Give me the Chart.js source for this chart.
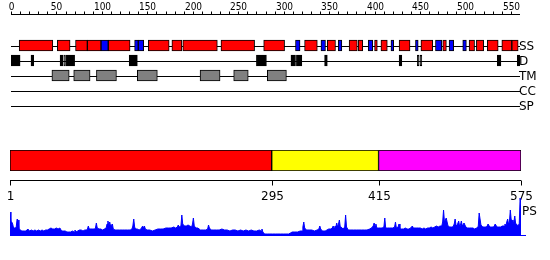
<!DOCTYPE html>
<html><head><meta charset="utf-8">
<script src="https://cdn.jsdelivr.net/npm/chart.js@4"></script>
<style>
html,body{margin:0;padding:0;background:#fff;width:550px;height:260px;overflow:hidden;}
canvas{position:absolute;left:0;}
</style></head><body>
<canvas id="top" width="550" height="115" style="top:0px"></canvas>
<canvas id="dom" width="550" height="65" style="top:140px"></canvas>
<canvas id="ps" width="550" height="60" style="top:190px"></canvas>
<script>
// ---- data ----
const rowNames = ['SS','D','TM','CC','SP'];
const rulerMax = 560;
const rulerStep = 10;
const rulerLabelStep = 50;
const helix = [[9,46],[51,65],[71,84],[84,99],[107,131],[151,174],[177,188],[189,227],[231,268],[278,301],
  [323,337],[348,357],[372,381],[382,387],[400,403],[407,414],[427,439],[451,464],[475,479],[504,510],
  [512,520],[524,536],[540,551],[551,558]];
const strand = [[99,107],[136,140],[140,146],[313,318],[341,346],[360,364],[393,398],[418,421],[445,448],
  [467,474],[482,487],[497,501]];
const disorder = [[0,10],[22,25],[54,57],[58,59],[60,70],[130,139],[270,281],[308,313],[314,320],[345,348],
  [427,430],[447,449],[450,452],[535,539],[557,560]];
const transmem = [[45,64],[69,87],[94,116],[139,161],[208,230],[245,261],[282,303]];
const domainStart = [1,295,415];
const domainEnd = [295,415,575];
const domainColors = ['#ff0000','#ffff00','#ff00ff'];
const domainTicks = [1,295,415,575];
const psLabel = 'PS';
const psPos = [1,2,3,4,5,7,8,9,10,11,13,14,17,19,21,23,25,27,29,31,33,35,37,39,41,43,45,47,49,51,53,55,57,59,61,63,65,67,69,71,73,74,75,77,79,81,83,85,87,88,89,90,92,94,96,97,98,99,101,103,105,107,109,110,111,112,113,114,116,117,119,121,124,127,130,133,136,138,139,140,141,142,144,146,148,150,151,152,153,155,158,161,164,167,170,173,176,179,182,185,187,189,190,191,193,194,195,197,199,201,203,205,206,207,208,210,212,215,218,221,223,224,225,227,230,233,236,239,242,245,248,251,254,257,260,263,266,269,272,275,278,281,283,284,285,287,290,293,296,299,302,305,308,311,314,316,318,321,324,327,329,330,331,332,334,337,340,343,346,348,349,350,352,355,357,359,361,363,364,365,366,367,368,369,370,371,372,373,375,377,378,379,381,384,387,390,393,396,399,402,405,407,409,410,411,412,413,415,417,419,421,422,423,425,427,429,431,433,434,435,437,438,439,441,443,445,447,449,451,453,454,456,458,460,462,464,466,468,470,472,474,476,478,480,482,484,485,486,487,488,489,491,493,495,497,498,499,500,501,502,503,505,506,507,508,509,511,513,515,517,519,521,523,525,526,527,528,530,532,534,536,537,538,540,542,544,545,546,548,550,552,554,556,557,558,559,560,561,562,563,564,565,566,567,568,569,570,571,572,573,574,575];
const psVal = [24,14,14,12,8,8,9,17,16,7,6,5,5,5,7,5,6,5,6,5,6,5,6,5,6,6,7,8,7,7,8,7,8,5,5,5,4,4,4,5,4,6,4,5,6,6,5,6,6,7,10,7,7,7,7,8,13,8,7,7,6,7,8,12,15,10,14,10,12,7,6,6,6,6,6,6,6,7,10,17,9,7,7,6,7,10,8,10,7,6,6,5,6,7,7,7,8,8,8,9,8,9,11,9,10,21,12,10,10,11,10,9,12,18,10,8,8,6,6,6,7,11,8,6,6,6,6,7,6,6,5,6,6,5,6,5,6,5,6,5,5,6,5,7,4,2,2,2,2,2,2,2,2,2,2,3,4,4,4,5,5,9,14,8,6,6,6,5,6,7,10,7,5,5,6,7,7,8,10,8,10,9,13,9,12,16,9,9,7,9,21,9,6,6,6,6,6,6,6,6,7,8,10,13,10,12,8,8,8,8,9,18,8,8,8,8,8,9,14,8,9,12,7,7,7,8,7,7,8,10,8,8,8,8,8,7,8,7,8,8,9,8,9,10,9,10,10,10,14,26,14,18,10,9,9,9,10,12,17,11,10,15,10,11,15,10,13,9,8,8,8,8,7,8,8,10,23,11,9,9,9,10,12,9,9,9,10,12,9,9,9,10,10,12,10,14,17,12,14,26,16,16,12,14,20,12,12,10,11,12,38,30,12];

const FONT = '"DejaVu Sans", sans-serif';

// ---- top panel: ruler + feature rows ----
function seg(list, row){ return list.map(([s,e]) => ({x:[s,e], y:row})); }
const barCommon = {borderColor:'#000', borderWidth:1, borderSkipped:false, barThickness:11, grouped:false};
const topPlugin = {
  id:'topDeco',
  beforeDatasetsDraw(chart){
    const {ctx, scales:{x,y}} = chart;
    ctx.save();
    ctx.strokeStyle = '#000'; ctx.lineWidth = 1;
    rowNames.forEach((n,i)=>{
      const py = Math.round(y.getPixelForValue(i)) + 0.5;
      ctx.beginPath(); ctx.moveTo(x.getPixelForValue(0), py); ctx.lineTo(x.getPixelForValue(rulerMax), py); ctx.stroke();
    });
    ctx.restore();
  },
  afterDraw(chart){
    const {ctx, scales:{x,y}} = chart;
    ctx.save();
    ctx.fillStyle = '#000'; ctx.strokeStyle = '#000'; ctx.lineWidth = 1;
    ctx.font = '12px ' + FONT; ctx.textAlign = 'left'; ctx.textBaseline = 'alphabetic';
    rowNames.forEach((n,i)=>{
      ctx.fillText(n, x.getPixelForValue(rulerMax) - 1, y.getPixelForValue(i) + 4.5);
    });
    // ruler
    const ry = 14.5;
    ctx.beginPath(); ctx.moveTo(x.getPixelForValue(0), ry); ctx.lineTo(x.getPixelForValue(rulerMax), ry); ctx.stroke();
    ctx.font = '10px "DejaVu Sans Condensed", ' + FONT; ctx.textAlign = 'center';
    for (let v = 0; v < rulerMax; v += rulerStep) {
      const px = Math.round(x.getPixelForValue(v)) + 0.5;
      ctx.beginPath(); ctx.moveTo(px, ry); ctx.lineTo(px, ry - 3); ctx.stroke();
      if (v % rulerLabelStep === 0) ctx.fillText(String(v), px, 10);
    }
    ctx.restore();
  }
};
new Chart(document.getElementById('top'), {
  type:'bar',
  data:{ labels: rowNames, datasets:[
    Object.assign({data:seg(helix,'SS'), backgroundColor:'#ff0000'}, barCommon),
    Object.assign({data:seg(strand,'SS'), backgroundColor:'#0000ff'}, barCommon),
    Object.assign({data:seg(disorder,'D'), backgroundColor:'#000000'}, barCommon),
    Object.assign({data:seg(transmem,'TM'), backgroundColor:'#808080'}, barCommon)
  ]},
  options:{
    indexAxis:'y', responsive:false, animation:false, devicePixelRatio:1,
    layout:{padding:{left:11, right:30, top:38, bottom:2}},
    plugins:{legend:{display:false}, tooltip:{enabled:false}},
    scales:{
      x:{type:'linear', min:0, max:rulerMax, display:false},
      y:{type:'category', labels:rowNames, display:false, offset:true}
    }
  },
  plugins:[topPlugin]
});

// ---- domain bar ----
const domPlugin = {
  id:'domDeco',
  afterDraw(chart){
    const {ctx, scales:{x}} = chart;
    ctx.save();
    ctx.strokeStyle = '#000'; ctx.fillStyle = '#000'; ctx.lineWidth = 1;
    const ly = 40.5;
    ctx.beginPath(); ctx.moveTo(x.getPixelForValue(domainTicks[0]), ly); ctx.lineTo(x.getPixelForValue(domainTicks[domainTicks.length-1]), ly); ctx.stroke();
    ctx.font = '12px ' + FONT; ctx.textAlign = 'center'; ctx.textBaseline = 'alphabetic';
    domainTicks.forEach(t=>{
      const px = Math.round(x.getPixelForValue(t)) + 0.5;
      ctx.beginPath(); ctx.moveTo(px, ly); ctx.lineTo(px, ly + 5); ctx.stroke();
      ctx.fillText(String(t), px, 60);
    });
    ctx.restore();
  }
};
new Chart(document.getElementById('dom'), {
  type:'bar',
  data:{ labels:['dom'], datasets:[{
    data: domainStart.map((s,i)=>({x:[s, domainEnd[i]], y:'dom'})),
    backgroundColor: domainColors, borderColor:'#000', borderWidth:1, borderSkipped:false,
    barPercentage:1, categoryPercentage:1, grouped:false
  }]},
  options:{
    indexAxis:'y', responsive:false, animation:false, devicePixelRatio:1,
    layout:{padding:{left:10, right:29, top:10, bottom:34}},
    plugins:{legend:{display:false}, tooltip:{enabled:false}},
    scales:{
      x:{type:'linear', min:domainTicks[0], max:domainTicks[domainTicks.length-1], display:false},
      y:{type:'category', display:false, offset:true}
    }
  },
  plugins:[domPlugin]
});

// ---- PS profile ----
const psPlugin = {
  id:'psDeco',
  afterDraw(chart){
    const {ctx, scales:{x,y}} = chart;
    ctx.save();
    ctx.strokeStyle = '#0000ff'; ctx.lineWidth = 1;
    const by = Math.round(y.getPixelForValue(0)) - 0.5;
    ctx.beginPath(); ctx.moveTo(x.getPixelForValue(psPos[0]), by); ctx.lineTo(x.getPixelForValue(psPos[psPos.length-1]) + 5, by); ctx.stroke();
    ctx.fillStyle = '#000'; ctx.font = '12px ' + FONT; ctx.textAlign = 'left'; ctx.textBaseline = 'alphabetic';
    ctx.fillText(psLabel, x.getPixelForValue(psPos[psPos.length-1]) + 1, 25);
    ctx.restore();
  }
};
new Chart(document.getElementById('ps'), {
  type:'line',
  data:{ datasets:[{
    data: psPos.map((p,i)=>({x:p, y:psVal[i]})),
    borderColor:'#0000ff', backgroundColor:'#0000ff', borderWidth:1, fill:'origin',
    pointRadius:0, tension:0
  }]},
  options:{
    responsive:false, animation:false, devicePixelRatio:1,
    layout:{padding:{left:10, right:29, top:6, bottom:14}},
    plugins:{legend:{display:false}, tooltip:{enabled:false}},
    scales:{
      x:{type:'linear', min:1, max:575, display:false},
      y:{type:'linear', min:0, max:40, display:false}
    }
  },
  plugins:[psPlugin]
});
</script>
</body></html>
